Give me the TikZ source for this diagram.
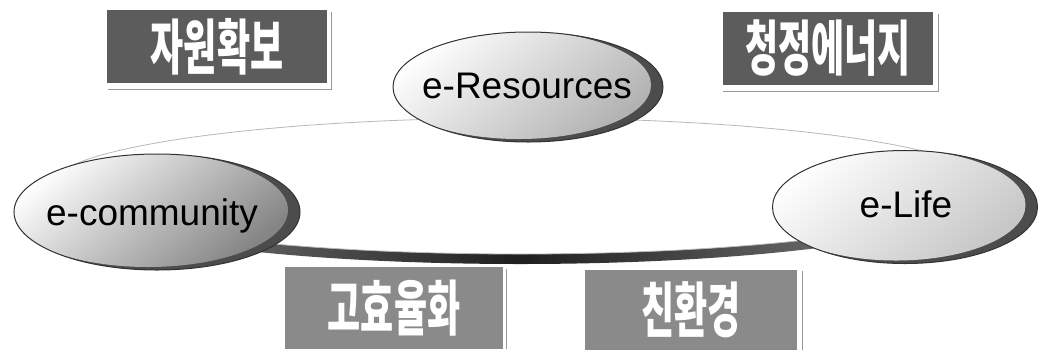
\documentclass[tikz,border=0pt]{standalone}
\usepackage{fontspec}
\setmainfont{Liberation Sans}
\newfontfamily\krfont{Noto Sans CJK KR}
\usetikzlibrary{shapes.geometric}
\begin{document}
\begin{tikzpicture}[x=1pt,y=-1pt,
  kbox/.style={rectangle, inner sep=0pt, text=white, font=\krfont\bfseries\fontsize{60}{64}\selectfont},
  topbox/.style={kbox, fill=black!64},
  botbox/.style={kbox, fill=black!46},
  shadowline/.style={draw=black!40, line width=1.2pt},
  eoval/.style n args={3}{ellipse, inner sep=0pt, draw=black!80, line width=1pt,
    minimum width=#1, minimum height=#2,
    path picture={
      \fill[black!70] (path picture bounding box.south west) rectangle (path picture bounding box.north east);
      \shade[top color=white, bottom color=black!#3, shading angle=40]
        ([shift={(-9pt,2pt)}]path picture bounding box.center) ellipse [x radius=#1/2-3pt, y radius=#2/2-1pt];
    }},
  elabel/.style={font=\fontsize{37}{40}\selectfont, text=black, inner sep=0pt},
]
\useasboundingbox (0,0) rectangle (1040,349);
\clip (0,0) rectangle (1040,349);

% disc with dark rim
\path[left color=black!45, right color=black!45, middle color=black!88]
  (520,194) ellipse [x radius=468pt, y radius=70pt];
\path[fill=white, draw=black!28, line width=0.8pt]
  (520,186) ellipse [x radius=470pt, y radius=68pt];

% boxes
\node[topbox, minimum width=220pt, minimum height=73pt] (b1) at (217,46.5) {\scalebox{0.6}[1]{자원확보}};
\node[topbox, minimum width=210pt, minimum height=73pt] (b2) at (828,48.5) {\scalebox{0.6}[1]{청정에너지}};
\node[botbox, minimum width=218pt, minimum height=82pt] (b3) at (394,308) {\scalebox{0.6}[1]{고효율화}};
\node[botbox, minimum width=212pt, minimum height=81pt] (b4) at (691,310) {\scalebox{0.6}[1]{친환경}};

\draw[shadowline] ([xshift=4pt,yshift=-2pt]b1.north east) -- ([xshift=4pt,yshift=-6pt]b1.south east) -- ([xshift=1pt,yshift=-6pt]b1.south west);
\draw[shadowline] ([xshift=5pt,yshift=-2pt]b2.north east) -- ([xshift=5pt,yshift=-6pt]b2.south east) -- ([xshift=0pt,yshift=-6pt]b2.south west);
\draw[shadowline] ([xshift=3pt,yshift=-2pt]b3.north east) -- ([xshift=3pt]b3.south east);
\draw[shadowline] ([xshift=5pt,yshift=-2pt]b4.north east) -- ([xshift=5pt]b4.south east);

% ovals
\node[eoval={270pt}{110pt}{30}] (eres) at (528,87) {};
\node[elabel] (eresl) at (527,86) {e-Resources};

\node[eoval={286pt}{116pt}{48}] (ecom) at (157,212) {};
\node[elabel] (ecoml) at (152,216) {e-community};

\node[eoval={265pt}{113pt}{22}] (elife) at (905,207) {};
\node[elabel] (elifel) at (906,204) {e-Life};
\end{tikzpicture}
\end{document}
